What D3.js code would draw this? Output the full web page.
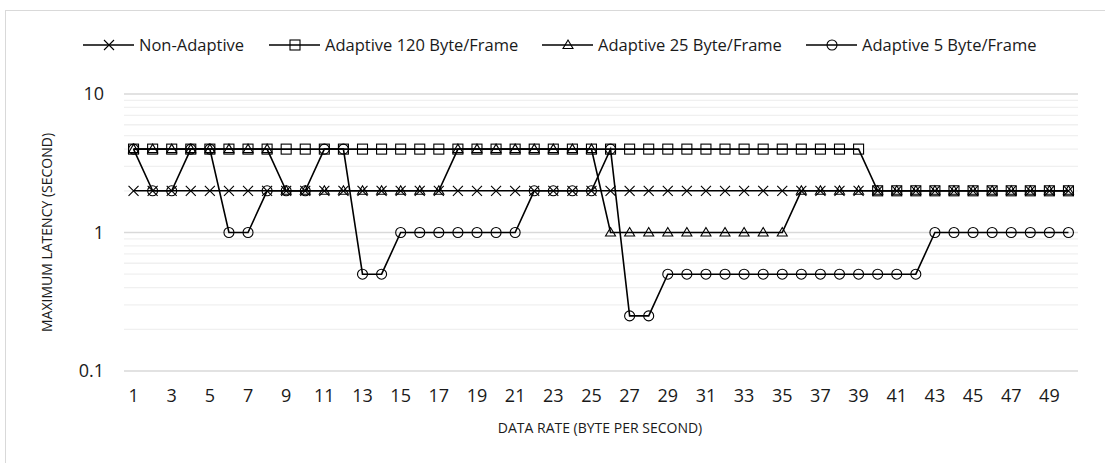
<!DOCTYPE html>
<html>
<head>
<meta charset="utf-8">
<script src="https://cdn.jsdelivr.net/npm/d3@7"></script>
<style>
  html, body { margin: 0; padding: 0; background: #fff; }
  svg { display: block; font-family: "Open Sans", "Noto Sans", sans-serif; }
</style>
</head>
<body>
<svg id="chart" width="1105" height="463"></svg>
<script>
// Data rate categories (byte per second)
const rates = d3.range(1, 51);
const tickLabels = rates.filter(r => r % 2 === 1);
const yTicks = [0.1, 1, 10];

// Maximum latency (seconds) per data rate
const nonAdaptive = [
  2,2,2,2,2,2,2,2,2,2, 2,2,2,2,2,2,2,2,2,2,
  2,2,2,2,2,2,2,2,2,2, 2,2,2,2,2,2,2,2,2,2,
  2,2,2,2,2,2,2,2,2,2
];
const adaptive120 = [
  4,4,4,4,4,4,4,4,4,4, 4,4,4,4,4,4,4,4,4,4,
  4,4,4,4,4,4,4,4,4,4, 4,4,4,4,4,4,4,4,4,2,
  2,2,2,2,2,2,2,2,2,2
];
const adaptive25 = [
  4,4,4,4,4,4,4,4,2,2, 2,2,2,2,2,2,2,4,4,4,
  4,4,4,4,4,1,1,1,1,1, 1,1,1,1,1,2,2,2,2,2,
  2,2,2,2,2,2,2,2,2,2
];
const adaptive5 = [
  4,2,2,4,4,1,1,2,2,2, 4,4,0.5,0.5,1,1,1,1,1,1,
  1,2,2,2,2,4,0.25,0.25,0.5,0.5, 0.5,0.5,0.5,0.5,0.5,0.5,0.5,0.5,0.5,0.5,
  0.5,0.5,1,1,1,1,1,1,1,1
];

const seriesNames = ["Non-Adaptive", "Adaptive 120 Byte/Frame", "Adaptive 25 Byte/Frame", "Adaptive 5 Byte/Frame"];
const seriesValues = [nonAdaptive, adaptive120, adaptive25, adaptive5];
const markerTypes = ["cross", "square", "triangle", "circle"];

const svg = d3.select("#chart");
const W = 1105, H = 463;
const plot = { left: 124, right: 1078, top: 94, bottom: 371 };
const textColor = "#1a1a1a";

// Chart frame
svg.append("rect")
  .attr("x", 5.5).attr("y", 10.5)
  .attr("width", W + 20).attr("height", H + 20)
  .attr("fill", "none").attr("stroke", "#d9d9d9").attr("stroke-width", 1);

const x = d3.scaleBand().domain(rates).range([plot.left, plot.right]);
const cx = d => x(d) + x.bandwidth() / 2;
const y = d3.scaleLog().domain([0.1, 10]).range([plot.bottom, plot.top]);

// Minor gridlines (2..9 within each decade)
const minor = [];
[0.1, 1].forEach(dec => { for (let k = 2; k <= 9; k++) minor.push(dec * k); });
svg.append("g").selectAll("line").data(minor).join("line")
  .attr("x1", plot.left).attr("x2", plot.right)
  .attr("y1", d => y(d)).attr("y2", d => y(d))
  .attr("stroke", "#f0f0f0").attr("stroke-width", 1.3);

// Major gridlines
svg.append("g").selectAll("line").data(yTicks).join("line")
  .attr("x1", plot.left).attr("x2", plot.right)
  .attr("y1", d => y(d)).attr("y2", d => y(d))
  .attr("stroke", "#d9d9d9").attr("stroke-width", 1.3);

// Y axis labels
const yAxis = d3.axisLeft(y).tickValues(yTicks).tickFormat(d => d3.format("")(d)).tickSize(0).tickPadding(20);
const gy = svg.append("g").attr("transform", `translate(${plot.left},0)`).call(yAxis);
gy.select(".domain").remove();
gy.selectAll("text").attr("font-size", 18).attr("fill", textColor).attr("font-family", "\"Open Sans\", sans-serif");

// X axis labels
const xAxis = d3.axisBottom(x).tickValues(tickLabels).tickSize(0).tickPadding(18);
const gx = svg.append("g").attr("transform", `translate(0,${plot.bottom})`).call(xAxis);
gx.select(".domain").remove();
gx.selectAll("text").attr("font-size", 18).attr("fill", textColor).attr("font-family", "\"Open Sans\", sans-serif");

// Axis titles
svg.append("text")
  .attr("x", 600).attr("y", 428).attr("dy", "0.35em")
  .attr("text-anchor", "middle").attr("font-size", 14).attr("fill", textColor)
  .text("DATA RATE (BYTE PER SECOND)");
svg.append("text")
  .attr("transform", `translate(47,${y(1)}) rotate(-90)`)
  .attr("dy", "0.35em")
  .attr("text-anchor", "middle").attr("font-size", 14).attr("fill", textColor)
  .text("MAXIMUM LATENCY (SECOND)");

// Marker drawing
function drawMarker(g, type, px, py) {
  const s = 5;
  if (type === "cross") {
    g.append("path").attr("d", `M${px - s},${py - s}L${px + s},${py + s}M${px - s},${py + s}L${px + s},${py - s}`)
      .attr("stroke", "#000").attr("stroke-width", 1.1).attr("fill", "none");
  } else if (type === "square") {
    g.append("rect").attr("x", px - s).attr("y", py - s).attr("width", 2 * s).attr("height", 2 * s)
      .attr("stroke", "#000").attr("stroke-width", 1.1).attr("fill", "none");
  } else if (type === "triangle") {
    g.append("path").attr("d", `M${px},${py - s}L${px + s},${py + 3.5}L${px - s},${py + 3.5}Z`)
      .attr("stroke", "#000").attr("stroke-width", 1.1).attr("fill", "none");
  } else {
    g.append("circle").attr("cx", px).attr("cy", py).attr("r", s)
      .attr("stroke", "#000").attr("stroke-width", 1.1).attr("fill", "none");
  }
}

const line = d3.line().x((d, i) => cx(rates[i])).y(d => y(d));

seriesValues.forEach((vals, si) => {
  const g = svg.append("g");
  g.append("path").datum(vals).attr("d", line)
    .attr("fill", "none").attr("stroke", "#000").attr("stroke-width", 1.6);
  vals.forEach((v, i) => drawMarker(g, markerTypes[si], cx(rates[i]), y(v)));
});

// Legend
const legendX = [83, 269, 542, 806];
const legendY = 45;
seriesNames.forEach((name, i) => {
  const g = svg.append("g");
  const lx = legendX[i];
  g.append("line").attr("x1", lx).attr("x2", lx + 51).attr("y1", legendY).attr("y2", legendY)
    .attr("stroke", "#000").attr("stroke-width", 1.6);
  drawMarker(g, markerTypes[i], lx + 26, legendY);
  g.append("text").attr("x", lx + 56).attr("y", legendY).attr("dy", "0.35em")
    .attr("font-size", 16.5).attr("fill", textColor).text(name);
});
</script>
</body>
</html>
